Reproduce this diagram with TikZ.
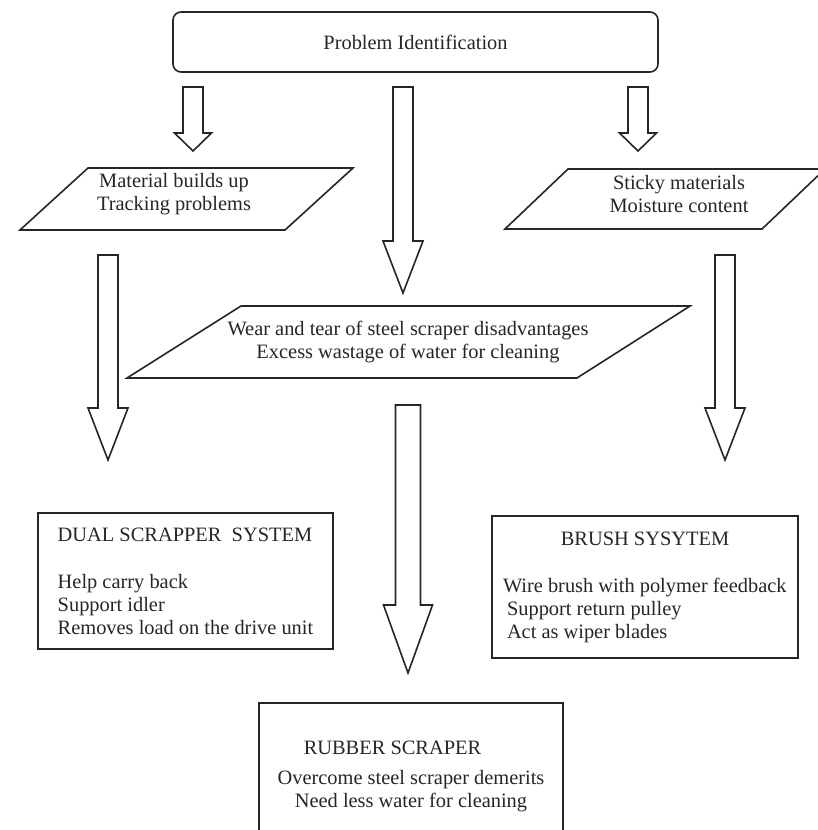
\documentclass[tikz,border=0pt]{standalone}
\usepackage{fontspec}
\setmainfont{Liberation Serif}
\usetikzlibrary{calc}
\tikzstyle{sysbox} = [rectangle, draw, align=left, inner sep=0pt]
\tikzstyle{txt} = [align=center, inner sep=0pt]
\tikzset{
  blockarrow/.style n args={3}{to path={let \p1=(\tikztostart), \p2=(\tikztotarget) in
    (\x1-#1,\y1) -- (\x1-#1,\y2+#3) -- (\x1-#2,\y2+#3) -- (\x2,\y2)
    -- (\x1+#2,\y2+#3) -- (\x1+#1,\y2+#3) -- (\x1+#1,\y1) -- cycle}},
  smallarrow/.style={blockarrow={5pt}{9.25pt}{9pt}},
  bigarrow/.style={blockarrow={5pt}{10pt}{26pt}},
}

\begin{document}
\begin{tikzpicture}[x=0.5pt,y=-0.5pt,line width=0.8pt,color=black!85,
                    font=\fontsize{10.2}{11.5}\selectfont]
  \useasboundingbox (0,0) rectangle (818,830);
  \clip (0,0) rectangle (818,830);
  \fill[white] (0,0) rectangle (818,830);

  \node[rectangle,draw,rounded corners=4pt,minimum width=242.5pt,minimum height=30pt]
        (prob) at (415.5,42) {Problem Identification};

  % problems found
  \draw (88,168) -- (353,168) -- (285,230) -- (20,230) -- cycle;
  \node[txt] (mattxt) at (174,194) {Material builds up\\Tracking problems};
  \draw (241,306) -- (690,306) -- (577,378) -- (127,378) -- cycle;
  \node[txt] (weartxt) at (408,342) {Wear and tear of steel scraper disadvantages\\Excess wastage of water for cleaning};
  \draw (568,169) -- (825,169) -- (762,229) -- (505,229) -- cycle;
  \node[txt] (stickytxt) at (679,194) {Sticky materials\\Moisture content};

  % solutions
  \node[sysbox,minimum width=147.5pt,minimum height=68pt] (dual) at (185.5,581)
        {DUAL SCRAPPER\ \ SYSTEM\\[12pt]Help carry back\\Support idler\\Removes load on the drive unit};
  \node[sysbox,minimum width=153pt,minimum height=71pt] (brush) at (645,587)
        {\makebox[142pt]{BRUSH SYSYTEM}\\[12pt]Wire brush with polymer feedback\\\hspace*{2pt}Support return pulley\\\hspace*{2pt}Act as wiper blades};
  \node[rectangle,draw,align=center,inner sep=0pt,minimum width=152pt,minimum height=88.5pt]
        (rubber) at (411,791.5) {Overcome steel scraper demerits\\Need less water for cleaning};
  \node[txt,anchor=west] (rubtitle) at (303,748) {RUBBER SCRAPER};

  % block arrows
  \coordinate (a1s) at (193,87);  \coordinate (a1e) at (193,151);
  \coordinate (a2s) at (403,87);  \coordinate (a2e) at (403,293);
  \coordinate (a3s) at (638,87);  \coordinate (a3e) at (638,151);
  \coordinate (a4s) at (108,255); \coordinate (a4e) at (108,460);
  \coordinate (a5s) at (725,255); \coordinate (a5e) at (725,460);
  \coordinate (a6s) at (408,405); \coordinate (a6e) at (408,673);

  \draw[fill=white] (a1s) to[smallarrow] (a1e);
  \draw[fill=white] (a3s) to[smallarrow] (a3e);
  \draw[fill=white] (a2s) to[bigarrow] (a2e);
  \draw[fill=white] (a4s) to[bigarrow] (a4e);
  \draw[fill=white] (a5s) to[bigarrow] (a5e);
  \draw[fill=white] (a6s) to[blockarrow={6.25pt}{12.25pt}{34pt}] (a6e);
\end{tikzpicture}
\end{document}
